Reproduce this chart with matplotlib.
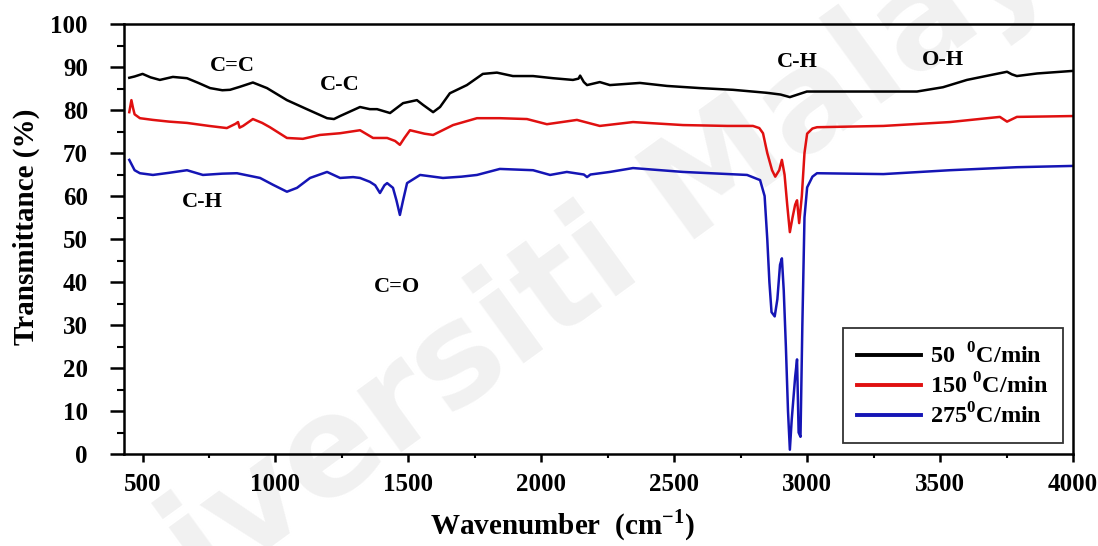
import matplotlib
matplotlib.use('Agg')
import matplotlib.pyplot as plt
from matplotlib.ticker import MultipleLocator

# 50 C/min
black_x = [450, 470, 500, 530, 565, 614, 667, 710, 754, 800, 829, 866, 915, 968, 1043, 1118,
           1194, 1220, 1243, 1318, 1355, 1382, 1431, 1480, 1532, 1555, 1593, 1619, 1656, 1720,
           1780, 1833, 1893, 1969, 2044, 2119, 2140, 2146, 2160, 2172, 2220, 2258, 2371, 2473,
           2597, 2721, 2849, 2900, 2935, 2999, 3086, 3225, 3413, 3511, 3601, 3688, 3752, 3770,
           3789, 3865, 4000]
black_y = [87.5, 87.8, 88.4, 87.6, 87.0, 87.7, 87.4, 86.3, 85.1, 84.6, 84.7, 85.4, 86.4, 85.1,
           82.3, 80.2, 78.1, 77.9, 78.6, 80.7, 80.2, 80.2, 79.3, 81.6, 82.3, 81.2, 79.5, 80.7,
           83.9, 85.8, 88.4, 88.7, 87.9, 87.9, 87.4, 87.0, 87.3, 88.0, 86.5, 85.8, 86.5, 85.8,
           86.3, 85.6, 85.1, 84.7, 84.0, 83.6, 83.0, 84.3, 84.3, 84.3, 84.3, 85.3, 87.0, 88.1,
           88.9, 88.3, 87.9, 88.5, 89.1]

# 150 C/min
red_x = [450, 458, 464, 470, 490, 539, 600, 667, 750, 817, 850, 859, 865, 878, 915, 950, 979,
         1043, 1103, 1167, 1243, 1318, 1367, 1420, 1450, 1468, 1485, 1506, 1560, 1593, 1668,
         1758, 1844, 1946, 2021, 2134, 2220, 2345, 2533, 2700, 2796, 2820, 2834, 2850, 2868,
         2880, 2895, 2905, 2915, 2925, 2935, 2945, 2955, 2962, 2970, 2980, 2990, 3000, 3020,
         3037, 3287, 3537, 3725, 3752, 3789, 3900, 4000]
red_y = [79.5, 82.3, 80.5, 79.0, 78.1, 77.7, 77.3, 77.0, 76.3, 75.8, 76.8, 77.2, 75.9, 76.3,
         77.9, 77.0, 76.0, 73.5, 73.3, 74.2, 74.6, 75.3, 73.5, 73.5, 72.8, 71.9, 73.5, 75.3,
         74.5, 74.2, 76.5, 78.1, 78.1, 77.9, 76.7, 77.7, 76.3, 77.2, 76.5, 76.3, 76.3, 75.8,
         74.6, 70.0, 66.0, 64.5, 66.0, 68.4, 65.0, 58.0, 51.6, 55.0, 58.0, 59.0, 53.7, 60.0,
         70.0, 74.5, 75.7, 76.0, 76.3, 77.2, 78.4, 77.3, 78.4, 78.5, 78.6]

# 275 C/min
blue_x = [450, 470, 490, 539, 600, 667, 727, 800, 855, 942, 991, 1043, 1081, 1130, 1194, 1243,
          1292, 1318, 1355, 1375, 1393, 1410, 1420, 1442, 1455, 1468, 1480, 1495, 1544, 1630,
          1700, 1758, 1844, 1969, 2033, 2096, 2160, 2172, 2185, 2258, 2345, 2533, 2774, 2823,
          2840, 2850, 2858, 2866, 2878, 2888, 2898, 2905, 2912, 2920, 2928, 2935, 2942, 2955,
          2962, 2968, 2975, 2982, 2990, 3000, 3020, 3037, 3287, 3537, 3789, 4000]
blue_y = [68.4, 66.0, 65.3, 64.9, 65.4, 66.0, 64.9, 65.2, 65.3, 64.2, 62.6, 61.0, 61.9, 64.2,
          65.6, 64.2, 64.4, 64.2, 63.3, 62.5, 60.7, 62.5, 63.0, 61.9, 59.0, 55.6, 59.0, 63.0,
          64.9, 64.2, 64.5, 64.9, 66.3, 66.0, 64.9, 65.6, 65.0, 64.4, 65.0, 65.6, 66.5, 65.6,
          64.9, 63.7, 60.0, 50.0, 40.0, 33.0, 32.0, 36.0, 44.0, 45.5, 38.0, 25.0, 10.0, 1.0,
          8.0, 18.0, 22.0, 5.0, 4.0, 30.0, 55.0, 62.0, 64.5, 65.3, 65.1, 66.0, 66.7, 67.0]

labels = [r'50  $^{\mathbf{0}}$C/min', r'150 $^{\mathbf{0}}$C/min', r'275$^{\mathbf{0}}$C/min']
colors = ['#000000', '#e01010', '#1515b5']

bands = ['C=C', 'C-C', 'C-H', 'O-H', 'C-H', 'C=O']
band_x = [836, 1243, 2962, 3511, 723, 1457]
band_y = [90.2, 85.8, 91.2, 91.6, 58.6, 38.8]

plt.rcParams['font.family'] = 'Liberation Serif'
plt.rcParams['font.weight'] = 'bold'
plt.rcParams['axes.labelweight'] = 'bold'
plt.rcParams['mathtext.fontset'] = 'custom'
plt.rcParams['mathtext.rm'] = 'Liberation Serif:bold'
plt.rcParams['mathtext.bf'] = 'Liberation Serif:bold'

fig = plt.figure(figsize=(10.98, 5.46), dpi=100)
ax = fig.add_axes([0.1129, 0.1685, 0.8643, 0.7875])
ax.patch.set_alpha(0)

# faint watermark behind the plot
fig.text(0.51, 0.47, 'Universiti Malaya', fontsize=100, family='DejaVu Sans', weight='bold',
         color='#f1f1f1', rotation=36, ha='center', va='center', zorder=-5)

for xs, ys, c, lab in zip([black_x, red_x, blue_x], [black_y, red_y, blue_y], colors, labels):
    ax.plot(xs, ys, color=c, lw=1.8, label=lab)

for t, x, y in zip(bands, band_x, band_y):
    ax.text(x, y, t, fontsize=16, ha='center', va='center')

ax.set_xlim(430, 4000)
ax.set_ylim(0, 100)
ax.xaxis.set_major_locator(MultipleLocator(500))
ax.xaxis.set_minor_locator(MultipleLocator(250))
ax.yaxis.set_major_locator(MultipleLocator(10))
ax.yaxis.set_minor_locator(MultipleLocator(5))
ax.tick_params(axis='y', which='major', direction='out', length=10, width=1.8, labelsize=18, pad=16)
ax.tick_params(axis='y', which='minor', direction='out', length=5, width=1.5)
ax.tick_params(axis='x', which='major', direction='out', length=6, width=1.8, labelsize=18, pad=8)
ax.tick_params(axis='x', which='minor', direction='out', length=3, width=1.5)
for s in ax.spines.values():
    s.set_linewidth(1.8)

ax.set_xlabel(r'Wavenumber  (cm$^{\mathbf{-1}}$)', fontsize=21)
ax.xaxis.set_label_coords(0.4616, -0.125)
ax.set_ylabel('Transmittance (%)', fontsize=21)
ax.yaxis.set_label_coords(-0.088, 0.528)

leg = ax.legend(loc='lower right', bbox_to_anchor=(0.9895, 0.0256), fontsize=17.5,
                frameon=True, fancybox=False, edgecolor='black', handlelength=2.6,
                labelspacing=0.2, borderpad=0.6, handletextpad=0.4, borderaxespad=0)
leg.get_frame().set_linewidth(1.3)
for h in leg.get_lines():
    h.set_linewidth(2.8)

plt.savefig('out.png', dpi=100)
plt.close()
